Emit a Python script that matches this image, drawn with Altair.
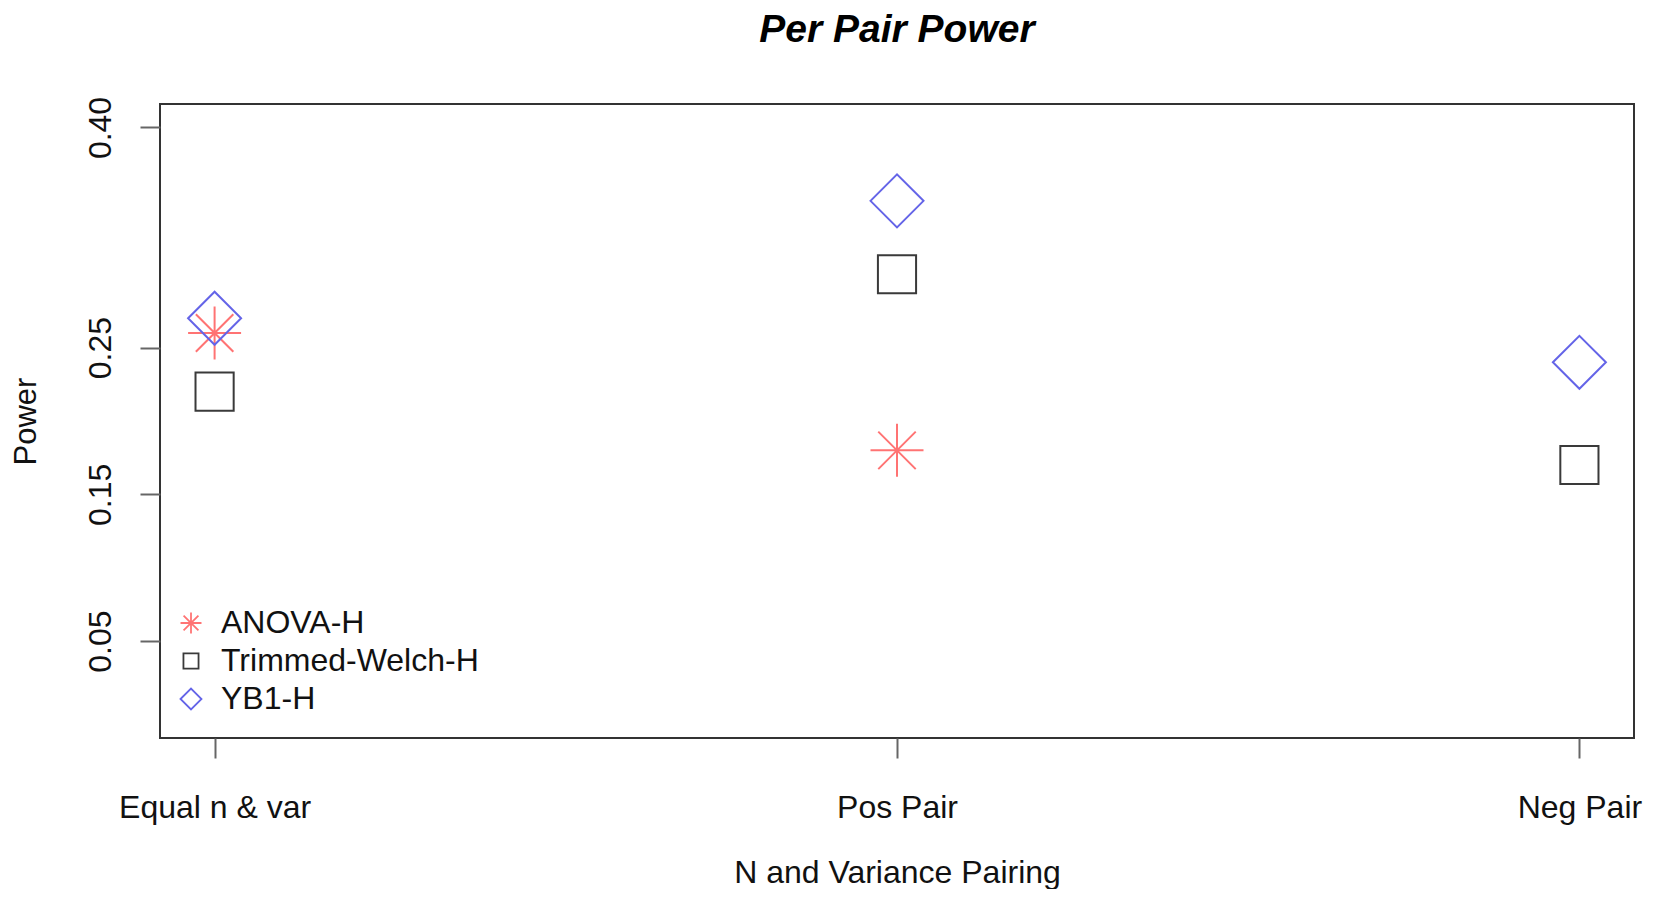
import altair as alt
import pandas as pd

# ---- data ----
categories = ["Equal n & var", "Pos Pair", "Neg Pair"]
methods = ["ANOVA-H", "Trimmed-Welch-H", "YB1-H"]
anova_h = [0.26, 0.18, None]          # no ANOVA-H point shown for Neg Pair
trimmed_welch_h = [0.22, 0.30, 0.17]
yb1_h = [0.27, 0.35, 0.24]
y_ticks = [0.05, 0.15, 0.25, 0.40]

rows = []
for m, vals in zip(methods, [anova_h, trimmed_welch_h, yb1_h]):
    for c, v in zip(categories, vals):
        if v is not None:
            rows.append({"pairing": c, "method": m, "power": v})
df = pd.DataFrame(rows)

FONT = "Liberation Sans, Arial, Helvetica, sans-serif"
STAR = "M-1,0L1,0M0,-1L0,1M-0.707,-0.707L0.707,0.707M-0.707,0.707L0.707,-0.707"
SQUARE = "M-0.72,-0.72L0.72,-0.72L0.72,0.72L-0.72,0.72Z"
FS = 32

chart = alt.Chart(df).mark_point(
    filled=False, size=2809, strokeWidth=2, opacity=1
).encode(
    x=alt.X(
        "pairing:N",
        sort=categories,
        scale=alt.Scale(type="point", padding=0.08),
        axis=alt.Axis(
            title="N and Variance Pairing",
            labelAngle=0,
            labelFontSize=FS,
            labelFont=FONT,
            labelColor="#111111",
            labelBaseline="alphabetic",
            labelPadding=59,
            labelLimit=600,
            tickSize=20,
            tickWidth=2,
            tickColor="#666666",
            domain=False,
            grid=False,
            titleFontSize=FS,
            titleFont=FONT,
            titleFontWeight="normal",
            titleColor="#111111",
            titleBaseline="alphabetic",
            titleX=737,
            titleY=144,
            titleAlign="center",
            titleLimit=1000,
        ),
    ),
    y=alt.Y(
        "power:Q",
        scale=alt.Scale(domain=[-0.016, 0.416], nice=False, zero=False),
        axis=alt.Axis(
            title="Power",
            values=y_ticks,
            format=".2f",
            labelAngle=270,
            labelAlign="center",
            labelBaseline="alphabetic",
            labelPadding=30,
            labelFontSize=FS,
            labelFont=FONT,
            labelColor="#111111",
            tickSize=20,
            tickWidth=2,
            tickColor="#666666",
            domain=False,
            grid=False,
            titleAngle=270,
            titleFontSize=31,
            titleFont=FONT,
            titleFontWeight="normal",
            titleColor="#111111",
            titleBaseline="alphabetic",
            titleAlign="center",
            titleX=-125,
            titleY=317,
        ),
    ),
    color=alt.Color(
        "method:N",
        scale=alt.Scale(
            domain=methods,
            range=["rgba(255,0,0,0.55)", "#3a3a3a", "#6464e8"],
        ),
        legend=alt.Legend(
            title=None,
            orient="none",
            legendX=15,
            legendY=503,
            symbolSize=440,
            symbolStrokeWidth=1.8,
            labelFontSize=FS,
            labelFont=FONT,
            labelColor="#111111",
            labelOffset=14,
            labelLimit=600,
            rowPadding=6,
            padding=0,
        ),
    ),
    shape=alt.Shape(
        "method:N",
        scale=alt.Scale(domain=methods, range=[STAR, SQUARE, "diamond"]),
    ),
).properties(
    width=1474,
    height=634,
    background="white",
    title=alt.TitleParams(
        "Per Pair Power",
        fontSize=39,
        fontStyle="italic",
        fontWeight="bold",
        font=FONT,
        color="#000000",
        anchor="middle",
        baseline="alphabetic",
        offset=15,
    ),
    autosize=alt.AutoSizeParams(type="none"),
    padding={"left": 152, "top": 96, "right": 18, "bottom": 151},
).configure_view(
    stroke="#333333", strokeWidth=2
)

chart.save("out.html", embed_options={"renderer": "svg", "actions": False})
